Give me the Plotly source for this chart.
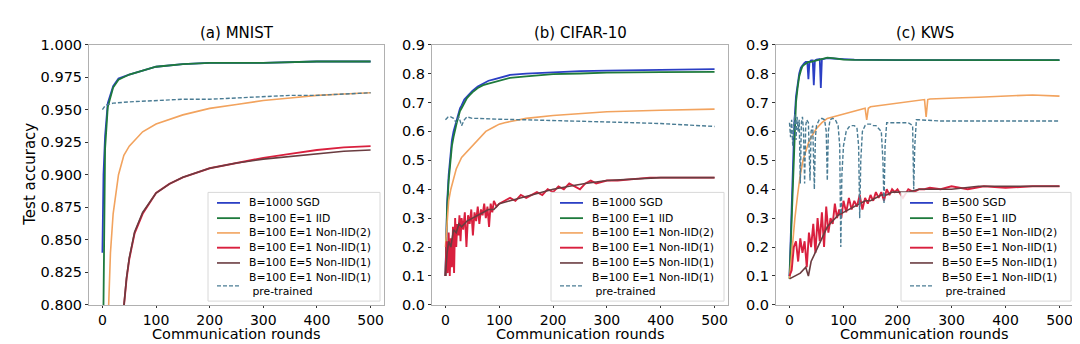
import plotly.graph_objects as go

# ---------------- Panel (a) MNIST ----------------
a_sgd_x = [0, 2, 5, 10, 20, 30, 50, 75, 100, 150, 200, 300, 400, 500]
a_sgd_y = [0.84, 0.90, 0.93, 0.955, 0.968, 0.974, 0.977, 0.980, 0.983, 0.985, 0.986, 0.986, 0.987, 0.987]
a_iid_x = [0, 2, 5, 10, 20, 30, 50, 75, 100, 150, 200, 300, 400, 500]
a_iid_y = [0.78, 0.80, 0.92, 0.952, 0.967, 0.973, 0.977, 0.980, 0.983, 0.985, 0.986, 0.986, 0.987, 0.987]
a_n2_x = [10, 12, 15, 20, 30, 40, 50, 75, 100, 150, 200, 250, 300, 350, 400, 450, 500]
a_n2_y = [0.78, 0.80, 0.84, 0.87, 0.90, 0.915, 0.922, 0.933, 0.939, 0.946, 0.951, 0.954, 0.957, 0.959, 0.961, 0.962, 0.963]
a_n1_x = [38, 40, 45, 50, 60, 75, 100, 125, 150, 200, 250, 300, 350, 400, 450, 500]
a_n1_y = [0.79, 0.80, 0.82, 0.835, 0.855, 0.870, 0.886, 0.893, 0.898, 0.905, 0.909, 0.913, 0.916, 0.919, 0.921, 0.922]
a_e5_x = [38, 40, 45, 50, 60, 75, 100, 125, 150, 200, 250, 300, 350, 400, 450, 500]
a_e5_y = [0.79, 0.80, 0.821, 0.836, 0.856, 0.871, 0.886, 0.893, 0.898, 0.905, 0.909, 0.912, 0.914, 0.916, 0.918, 0.919]
a_pre_x = [0, 5, 10, 20, 50, 100, 150, 200, 250, 300, 350, 400, 450, 500]
a_pre_y = [0.950, 0.953, 0.954, 0.955, 0.956, 0.957, 0.958, 0.958, 0.959, 0.960, 0.961, 0.961, 0.962, 0.963]

# ---------------- Panel (b) CIFAR-10 ----------------
b_sgd_x = [0, 3, 6, 9, 12, 15, 18, 21, 24, 27, 30, 35, 40, 45, 50, 60, 70, 80, 90, 100, 120, 150, 200, 250, 300, 400, 500]
b_sgd_y = [0.10, 0.35, 0.45, 0.52, 0.57, 0.60, 0.62, 0.64, 0.66, 0.68, 0.69, 0.71, 0.72, 0.73, 0.74, 0.755, 0.765, 0.775, 0.78, 0.785, 0.795, 0.80, 0.805, 0.808, 0.81, 0.812, 0.815]
b_iid_x = b_sgd_x
b_iid_y = [0.10, 0.33, 0.43, 0.50, 0.55, 0.58, 0.61, 0.63, 0.65, 0.67, 0.68, 0.70, 0.715, 0.725, 0.735, 0.75, 0.76, 0.765, 0.77, 0.775, 0.785, 0.79, 0.798, 0.80, 0.803, 0.805, 0.806]
b_n2_x = [0, 3, 6, 10, 15, 20, 30, 40, 50, 60, 75, 90, 100, 110, 125, 150, 200, 250, 300, 400, 500]
b_n2_y = [0.20, 0.30, 0.36, 0.40, 0.44, 0.47, 0.51, 0.53, 0.55, 0.57, 0.60, 0.615, 0.625, 0.63, 0.635, 0.645, 0.655, 0.662, 0.668, 0.673, 0.677]
b_n1_x = [0, 2, 4, 6, 8, 10, 12, 14, 16, 18, 20, 22, 24, 26, 28, 30, 33, 36, 39, 42, 45, 48, 51, 54, 57, 60, 63, 66, 69, 72, 75, 78, 81, 84, 87, 90, 95, 100, 110, 120, 130, 140, 150, 160, 170, 180, 190, 200, 210, 220, 230, 240, 250, 260, 270, 280, 300, 320, 350, 380, 400, 430, 460, 500]
b_n1_y = [0.10, 0.22, 0.11, 0.25, 0.10, 0.23, 0.13, 0.27, 0.11, 0.30, 0.20, 0.28, 0.24, 0.31, 0.22, 0.30, 0.26, 0.32, 0.20, 0.31, 0.28, 0.33, 0.24, 0.32, 0.29, 0.34, 0.28, 0.33, 0.31, 0.35, 0.30, 0.34, 0.27, 0.35, 0.32, 0.36, 0.34, 0.35, 0.36, 0.37, 0.36, 0.38, 0.37, 0.38, 0.39, 0.38, 0.40, 0.39, 0.41, 0.40, 0.42, 0.41, 0.40, 0.42, 0.43, 0.42, 0.43, 0.43, 0.435, 0.44, 0.44, 0.44, 0.44, 0.44]
b_e5_x = [0, 3, 6, 10, 15, 20, 25, 30, 40, 50, 60, 70, 80, 90, 100, 120, 140, 160, 180, 200, 230, 260, 300, 350, 400, 450, 500]
b_e5_y = [0.10, 0.18, 0.22, 0.20, 0.26, 0.25, 0.28, 0.27, 0.29, 0.30, 0.31, 0.32, 0.33, 0.33, 0.35, 0.36, 0.37, 0.38, 0.39, 0.40, 0.41, 0.42, 0.43, 0.435, 0.44, 0.44, 0.44]
b_pre_x = [0, 5, 10, 15, 20, 25, 30, 35, 40, 50, 60, 80, 100, 150, 200, 250, 300, 350, 400, 450, 500]
b_pre_y = [0.64, 0.65, 0.65, 0.645, 0.63, 0.65, 0.62, 0.64, 0.65, 0.645, 0.645, 0.643, 0.642, 0.640, 0.638, 0.636, 0.633, 0.630, 0.627, 0.622, 0.617]

# ---------------- Panel (c) KWS ----------------
c_sgd_x = [0, 3, 6, 9, 12, 15, 18, 21, 24, 27, 30, 33, 35, 37, 40, 43, 45, 47, 50, 53, 56, 58, 60, 62, 65, 70, 80, 90, 100, 120, 150, 200, 300, 400, 500]
c_sgd_y = [0.10, 0.30, 0.50, 0.63, 0.72, 0.77, 0.80, 0.82, 0.83, 0.835, 0.84, 0.84, 0.78, 0.84, 0.845, 0.845, 0.76, 0.845, 0.848, 0.85, 0.85, 0.75, 0.85, 0.85, 0.852, 0.853, 0.852, 0.85, 0.85, 0.848, 0.847, 0.846, 0.846, 0.846, 0.846]
c_iid_x = [0, 3, 6, 9, 12, 15, 18, 21, 24, 27, 30, 35, 40, 50, 60, 70, 80, 90, 100, 120, 150, 200, 300, 400, 500]
c_iid_y = [0.09, 0.25, 0.45, 0.60, 0.70, 0.75, 0.79, 0.81, 0.825, 0.83, 0.835, 0.84, 0.84, 0.845, 0.85, 0.855, 0.853, 0.85, 0.848, 0.847, 0.847, 0.846, 0.846, 0.846, 0.846]
c_n2_x = [0, 5, 10, 15, 20, 25, 30, 35, 40, 50, 60, 70, 80, 90, 100, 110, 120, 130, 140, 143, 146, 150, 170, 200, 230, 250, 253, 256, 260, 280, 300, 320, 350, 400, 450, 500]
c_n2_y = [0.09, 0.20, 0.30, 0.38, 0.45, 0.50, 0.53, 0.56, 0.58, 0.61, 0.63, 0.645, 0.65, 0.655, 0.66, 0.665, 0.67, 0.675, 0.68, 0.64, 0.68, 0.685, 0.69, 0.70, 0.705, 0.71, 0.65, 0.71, 0.712, 0.714, 0.715, 0.716, 0.718, 0.722, 0.726, 0.722]
c_n1_x = [0, 4, 8, 12, 16, 20, 24, 28, 32, 36, 40, 44, 48, 52, 56, 60, 64, 68, 72, 76, 80, 84, 88, 92, 96, 100, 105, 110, 115, 120, 125, 130, 135, 140, 145, 150, 155, 160, 165, 170, 175, 180, 185, 190, 195, 200, 210, 220, 230, 240, 250, 260, 280, 300, 330, 360, 400, 450, 500]
c_n1_y = [0.10, 0.12, 0.20, 0.22, 0.15, 0.23, 0.18, 0.22, 0.13, 0.25, 0.20, 0.28, 0.18, 0.30, 0.22, 0.32, 0.20, 0.34, 0.25, 0.30, 0.28, 0.35, 0.30, 0.33, 0.30, 0.36, 0.32, 0.37, 0.33, 0.36, 0.34, 0.38, 0.33, 0.37, 0.35, 0.38, 0.36, 0.39, 0.37, 0.39, 0.36, 0.40, 0.38, 0.40, 0.39, 0.40, 0.37, 0.40, 0.39, 0.40, 0.40, 0.405, 0.40, 0.41, 0.40, 0.41, 0.405, 0.41, 0.41]
c_e5_x = [0, 10, 20, 30, 35, 40, 50, 60, 70, 80, 90, 100, 110, 120, 130, 140, 150, 160, 170, 180, 190, 200, 220, 240, 260, 300, 350, 400, 450, 500]
c_e5_y = [0.09, 0.10, 0.11, 0.13, 0.10, 0.15, 0.19, 0.23, 0.27, 0.29, 0.31, 0.32, 0.33, 0.34, 0.35, 0.36, 0.36, 0.37, 0.38, 0.38, 0.39, 0.39, 0.39, 0.40, 0.40, 0.40, 0.41, 0.41, 0.41, 0.41]
c_pre_x = [0, 2, 4, 6, 8, 10, 12, 14, 16, 18, 20, 22, 24, 26, 28, 30, 32, 35, 38, 40, 43, 46, 48, 50, 55, 60, 65, 68, 70, 72, 75, 80, 85, 90, 93, 95, 97, 100, 105, 110, 115, 120, 125, 128, 130, 132, 135, 140, 145, 150, 155, 160, 165, 170, 173, 175, 177, 180, 190, 200, 210, 220, 228, 230, 232, 235, 240, 260, 280, 300, 350, 400, 450, 500]
c_pre_y = [0.63, 0.58, 0.64, 0.55, 0.62, 0.66, 0.57, 0.65, 0.60, 0.64, 0.42, 0.63, 0.65, 0.60, 0.42, 0.62, 0.64, 0.63, 0.43, 0.60, 0.62, 0.40, 0.58, 0.62, 0.64, 0.645, 0.64, 0.60, 0.43, 0.60, 0.64, 0.645, 0.64, 0.62, 0.55, 0.20, 0.45, 0.55, 0.60, 0.615, 0.62, 0.62, 0.61, 0.55, 0.30, 0.50, 0.60, 0.62, 0.625, 0.625, 0.62, 0.62, 0.61, 0.60, 0.50, 0.35, 0.55, 0.63, 0.63, 0.63, 0.63, 0.63, 0.62, 0.40, 0.55, 0.64, 0.64, 0.637, 0.636, 0.636, 0.636, 0.636, 0.636, 0.636]

labels_a = ["B=1000 SGD", "B=100 E=1 IID", "B=100 E=1 Non-IID(2)", "B=100 E=1 Non-IID(1)",
            "B=100 E=5 Non-IID(1)", "B=100 E=1 Non-IID(1)<br> pre-trained"]
labels_c = ["B=500 SGD", "B=50 E=1 IID", "B=50 E=1 Non-IID(2)", "B=50 E=1 Non-IID(1)",
            "B=50 E=5 Non-IID(1)", "B=50 E=1 Non-IID(1)<br> pre-trained"]
titles = ["(a) MNIST", "(b) CIFAR-10", "(c) KWS"]
x_title = "Communication rounds"
y_title = "Test accuracy"
x_ticks = [0, 100, 200, 300, 400, 500]
a_y_ticks = [0.800, 0.825, 0.850, 0.875, 0.900, 0.925, 0.950, 0.975, 1.000]
bc_y_ticks = [0.0, 0.1, 0.2, 0.3, 0.4, 0.5, 0.6, 0.7, 0.8, 0.9]

colors = ["#2b3fc4", "#1e7a3c", "#f2a35e", "#d9203e", "#6a3c40", "#4a7c94"]
widths = [1.8, 1.8, 1.6, 1.9, 1.6, 1.4]
dashes = ["solid", "solid", "solid", "solid", "solid", "4px,2px"]

FONT = "DejaVu Sans"
W, H = 1080, 344
x_doms = [(81 / W, 376 / W), (424 / W, 720 / W), (768 / W, 1065 / W)]
y_dom = (1 - 303 / H, 1 - 30 / H)
# legend box placement (pixels): left, right, top, bottom
leg_boxes = [(200, 372, 185, 299), (543, 716, 185, 299), (893, 1063, 185, 299)]
LEG_FONT = 10.8


def px(x):
    return x / W


def py(y):
    return 1 - y / H


panels = [
    (labels_a, [(a_sgd_x, a_sgd_y), (a_iid_x, a_iid_y), (a_n2_x, a_n2_y), (a_n1_x, a_n1_y), (a_e5_x, a_e5_y), (a_pre_x, a_pre_y)]),
    (labels_a, [(b_sgd_x, b_sgd_y), (b_iid_x, b_iid_y), (b_n2_x, b_n2_y), (b_n1_x, b_n1_y), (b_e5_x, b_e5_y), (b_pre_x, b_pre_y)]),
    (labels_c, [(c_sgd_x, c_sgd_y), (c_iid_x, c_iid_y), (c_n2_x, c_n2_y), (c_n1_x, c_n1_y), (c_e5_x, c_e5_y), (c_pre_x, c_pre_y)]),
]

fig = go.Figure()
layout = dict(
    width=W, height=H,
    margin=dict(l=0, r=0, t=0, b=0),
    paper_bgcolor="white", plot_bgcolor="white",
    font=dict(family=FONT, size=15, color="black"),
    showlegend=False,
    annotations=[],
    shapes=[],
)

entry_y = [196, 212, 227.5, 243, 259]
last_text_y = 281.5
last_sample_y = 283

for i, (labels, series) in enumerate(panels):
    sfx = "" if i == 0 else str(i + 1)
    for j, (xs, ys) in enumerate(series):
        fig.add_trace(go.Scatter(
            x=xs, y=ys, mode="lines", name=labels[j],
            line=dict(color=colors[j], width=widths[j], dash=dashes[j]),
            xaxis="x" + sfx, yaxis="y" + sfx,
        ))
    common_ax = dict(showline=True, mirror=True, linecolor="#b0b0b0", linewidth=1,
                     ticks="outside", tickcolor="#333333", showgrid=False,
                     zeroline=False)
    layout["xaxis" + sfx] = dict(domain=list(x_doms[i]), range=[-25, 525], tickvals=x_ticks,
                                 anchor="y" + sfx, ticklen=2, tickfont=dict(size=14, family=FONT),
                                 **common_ax)
    if i == 0:
        ydict = dict(range=[0.8, 1.0], tickvals=a_y_ticks, tickformat=".3f")
    else:
        ydict = dict(range=[0.0, 0.9], tickvals=bc_y_ticks, tickformat=".1f")
    layout["yaxis" + sfx] = dict(domain=list(y_dom), anchor="x" + sfx, ticklen=3,
                                 tickfont=dict(size=14.5, family=FONT), **ydict, **common_ax)

    cx = (x_doms[i][0] + x_doms[i][1]) / 2
    layout["annotations"].append(dict(
        text=titles[i], x=cx, y=py(18), xref="paper", yref="paper", showarrow=False,
        font=dict(size=15, family=FONT), xanchor="center", yanchor="middle"))
    layout["annotations"].append(dict(
        text=x_title, x=cx, y=py(344), xref="paper", yref="paper", showarrow=False,
        font=dict(size=14.5, family=FONT), xanchor="center", yanchor="bottom"))

    # manual legend
    L, R, T, B = leg_boxes[i]
    layout["shapes"].append(dict(
        type="rect", xref="paper", yref="paper", x0=px(L), x1=px(R), y0=py(B), y1=py(T),
        fillcolor="rgba(255,255,255,0.85)", line=dict(color="#d8d8d8", width=1), layer="above"))
    for j in range(6):
        sy = entry_y[j] if j < 5 else last_sample_y
        ty = entry_y[j] if j < 5 else last_text_y
        layout["shapes"].append(dict(
            type="line", xref="paper", yref="paper", x0=px(L + 9), x1=px(L + 32), y0=py(sy), y1=py(sy),
            line=dict(color=colors[j], width=widths[j], dash=dashes[j]), layer="above"))
        layout["annotations"].append(dict(
            text=labels[j], x=px(L + 39), y=py(ty), xref="paper", yref="paper", showarrow=False,
            font=dict(size=LEG_FONT, family=FONT), xanchor="left", yanchor="middle", align="left"))

layout["annotations"].append(dict(
    text=y_title, x=px(22), y=(y_dom[0] + y_dom[1]) / 2, xref="paper", yref="paper", showarrow=False,
    textangle=-90, font=dict(size=15, family=FONT), xanchor="center", yanchor="middle"))

fig.update_layout(**layout)
fig.write_html("out.html")
